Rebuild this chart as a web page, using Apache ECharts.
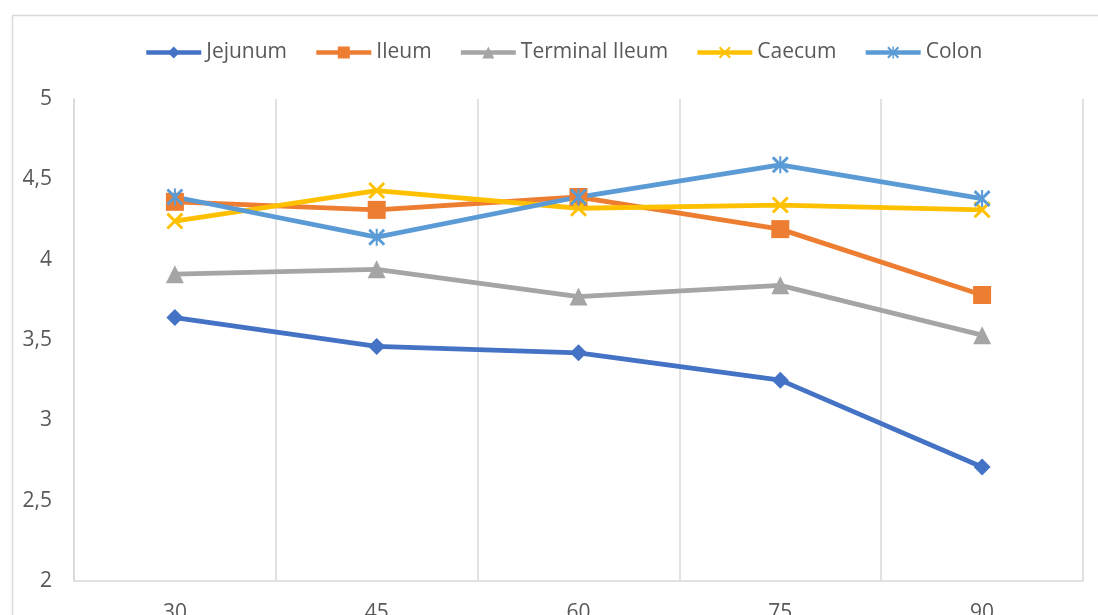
<!DOCTYPE html>
<html><head><meta charset="utf-8">
<script src="https://cdn.jsdelivr.net/npm/echarts@6/dist/echarts.min.js"></script>
<style>html,body{margin:0;padding:0;background:#fff}#c{width:1098px;height:615px}</style>
</head><body><div id="c"></div>
<script>
const categories = ['30', '45', '60', '75', '90'];
const jejunum = [3.64, 3.46, 3.42, 3.25, 2.71];
const ileum = [4.36, 4.31, 4.39, 4.19, 3.78];
const terminalIleum = [3.91, 3.94, 3.77, 3.84, 3.53];
const caecum = [4.24, 4.43, 4.32, 4.34, 4.31];
const colon = [4.39, 4.14, 4.39, 4.59, 4.38];
const yTicks = [2, 2.5, 3, 3.5, 4, 4.5, 5];

const FONT = '"Open Sans", Lato, sans-serif';
const xSym = 'path://M0,1.2 L1.2,0 L10,8.8 L8.8,10 Z M8.8,0 L10,1.2 L1.2,10 L0,8.8 Z';
const starSym = 'path://M0,1.2 L1.2,0 L10,8.8 L8.8,10 Z M8.8,0 L10,1.2 L1.2,10 L0,8.8 Z M4.4,0 L5.6,0 L5.6,10 L4.4,10 Z';

function mk(name, data, color, symbol, size) {
  return {
    name, type: 'line', data, symbol, symbolSize: size,
    lineStyle: { color, width: 4.8 },
    itemStyle: { color },
    emphasis: { disabled: true },
    animation: false
  };
}

const chart = echarts.init(document.getElementById('c'));
chart.setOption({
  animation: false,
  textStyle: { fontFamily: FONT },
  graphic: [{
    type: 'rect', left: 10, top: 13, silent: true,
    shape: { width: 1300, height: 800 },
    style: { fill: 'none', stroke: '#d9d9d9', lineWidth: 1.5 }
  }],
  legend: {
    top: 37, left: 139,
    itemWidth: 55, itemHeight: 15, itemGap: 27,
    lineStyle: { width: 4.5 },
    textStyle: { fontSize: 21, color: '#595959', fontFamily: FONT },
    data: ['Jejunum', 'Ileum', 'Terminal Ileum', 'Caecum', 'Colon']
  },
  grid: { left: 74, right: 15, top: 99, bottom: 34, containLabel: false, outerBoundsMode: 'none' },
  xAxis: {
    type: 'category', data: categories, boundaryGap: true,
    axisLine: { lineStyle: { color: '#d9d9d9', width: 1.5 } },
    axisTick: { show: false },
    splitLine: { show: true, lineStyle: { color: '#d9d9d9', width: 1.5 } },
    axisLabel: { fontSize: 21, color: '#595959', margin: 22, fontFamily: FONT }
  },
  yAxis: {
    type: 'value', min: yTicks[0], max: yTicks[yTicks.length - 1], interval: 0.5,
    axisLine: { show: true, lineStyle: { color: '#d9d9d9', width: 1.5 } },
    axisTick: { show: false },
    splitLine: { show: false },
    axisLabel: { fontSize: 21, color: '#595959', margin: 22, fontFamily: FONT,
      formatter: v => String(v).replace('.', ',') }
  },
  series: [
    mk('Jejunum', jejunum, '#4472C4', 'diamond', 17),
    mk('Ileum', ileum, '#ED7D31', 'rect', 18),
    mk('Terminal Ileum', terminalIleum, '#A5A5A5', 'triangle', 18),
    mk('Caecum', caecum, '#FFC000', xSym, 17),
    mk('Colon', colon, '#5B9BD5', starSym, 17)
  ]
});
</script></body></html>
